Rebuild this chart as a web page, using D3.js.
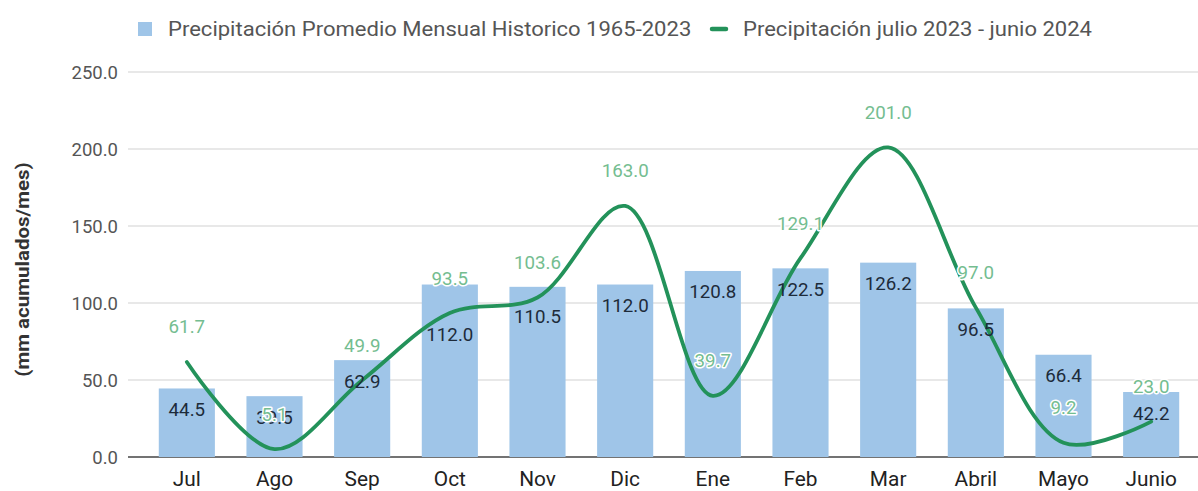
<!DOCTYPE html>
<html>
<head>
<meta charset="utf-8">
<script src="https://cdn.jsdelivr.net/npm/d3@7"></script>
<style>
  html, body { margin: 0; padding: 0; background: #fff; }
  svg { display: block; font-family: Roboto, "Noto Sans", sans-serif; }
</style>
</head>
<body>
<svg id="chart" width="1198" height="491"></svg>
<script>
// ---- data ----
const months = ["Jul", "Ago", "Sep", "Oct", "Nov", "Dic", "Ene", "Feb", "Mar", "Abril", "Mayo", "Junio"];
const historico = [44.5, 39.5, 62.9, 112.0, 110.5, 112.0, 120.8, 122.5, 126.2, 96.5, 66.4, 42.2];
const temporada = [61.7, 5.1, 49.9, 93.5, 103.6, 163.0, 39.7, 129.1, 201.0, 97.0, 9.2, 23.0];
const yTicks = [0, 50, 100, 150, 200, 250];
const seriesNames = ["Precipitación Promedio Mensual Historico 1965-2023", "Precipitación julio 2023 - junio 2024"];
const yTitle = "(mm acumulados/mes)";

// ---- layout ----
const svg = d3.select("#chart");
const plot = { left: 128, right: 1198, top: 72, bottom: 457 };
const barColor = "#9fc5e8";
const lineColor = "#23925a";
const lineLabelColor = "#74bd90";

const x = d3.scaleBand().domain(months).range([143, 1195]).paddingInner(0.36).paddingOuter(0.18);
const y = d3.scaleLinear().domain([0, 250]).range([plot.bottom, plot.top]);
const cx = m => x(m) + x.bandwidth() / 2;

function stretchedText(g, tx, ty, txt, anchor, sx) {
  return g.append("text")
    .attr("transform", `translate(${tx},${ty}) scale(${sx},1)`)
    .attr("text-anchor", anchor)
    .text(txt);
}

// gridlines
svg.append("g").selectAll("line").data(yTicks).join("line")
  .attr("x1", plot.left).attr("x2", plot.right)
  .attr("y1", d => y(d)).attr("y2", d => y(d))
  .attr("stroke", d => d === 0 ? "#444" : "#e0e0e0")
  .attr("stroke-width", d => d === 0 ? 1.4 : 1.3);

// y tick labels
const yl = svg.append("g").attr("font-size", 18.5).attr("fill", "#555");
yTicks.forEach(t => {
  stretchedText(yl, 118, y(t) + 6.5, d3.format(".1f")(t), "end", 1.0);
});

// y title
svg.append("text")
  .attr("transform", `translate(29,${(plot.top + plot.bottom) / 2 + 5}) rotate(-90) scale(1.08,1)`)
  .attr("text-anchor", "middle")
  .attr("font-size", 19).attr("font-weight", "bold").attr("fill", "#333")
  .text(yTitle);

// bars
svg.append("g").selectAll("rect").data(historico).join("rect")
  .attr("x", (d, i) => x(months[i]))
  .attr("width", x.bandwidth())
  .attr("y", d => y(d))
  .attr("height", d => y(0) - y(d))
  .attr("fill", barColor);

// line
const lineGen = d3.line()
  .x((d, i) => cx(months[i]))
  .y(d => y(d))
  .curve(d3.curveCatmullRom.alpha(0.5));
const path = svg.append("path")
  .attr("d", lineGen(temporada))
  .attr("fill", "none")
  .attr("stroke", lineColor)
  .attr("stroke-width", 3.8)
  .attr("stroke-linecap", "round");

// sample the line so bar labels can step out of a flat run of it
const pn = path.node();
const L = pn.getTotalLength();
const samples = [];
for (let s = 0; s <= L; s += 1) samples.push(pn.getPointAtLength(s));
const xMin = d3.min(samples, p => p.x), xMax = d3.max(samples, p => p.x);
function lineYAt(px) {
  let best = null, bd = Infinity;
  samples.forEach(p => { const d = Math.abs(p.x - px); if (d < bd) { bd = d; best = p; } });
  return best.y;
}
function placeBarLabel(c, cy) {
  if (c - 20 < xMin || c + 20 > xMax) return cy;
  const yc = lineYAt(c);
  const slope = Math.abs(lineYAt(c + 20) - lineYAt(c - 20)) / 40;
  if (Math.abs(yc - cy) < 14 && slope < 0.7) {
    const near = samples.filter(p => Math.abs(p.x - c) < 14);
    return d3.max(near, p => p.y) + 14;
  }
  return cy;
}

// bar labels
const bl = svg.append("g").attr("font-size", 18).attr("fill", "#1d2b3a");
historico.forEach((v, i) => {
  const c = cx(months[i]);
  const cy = placeBarLabel(c, y(v) + 21);
  stretchedText(bl, c, cy + 6.5, d3.format(".1f")(v), "middle", 1.04);
});

// line labels
const ll = svg.append("g").attr("font-size", 18).attr("fill", lineLabelColor)
  .attr("stroke", "#fff").attr("stroke-width", 3).attr("paint-order", "stroke")
  .attr("stroke-linejoin", "round");
temporada.forEach((v, i) => {
  stretchedText(ll, cx(months[i]), y(v) - 35 + 6.5, d3.format(".1f")(v), "middle", 1.04);
});

// x axis labels
const xl = svg.append("g").attr("font-size", 19.5).attr("fill", "#222");
months.forEach(m => {
  stretchedText(xl, cx(m), 486, m, "middle", 1.07);
});

// legend
const lg = svg.append("g").attr("font-size", 21).attr("fill", "#555");
lg.append("rect").attr("x", 138).attr("y", 22).attr("width", 14).attr("height", 14).attr("fill", barColor);
stretchedText(lg, 168, 36, seriesNames[0], "start", 1.05);
lg.append("line").attr("x1", 712).attr("x2", 726).attr("y1", 29).attr("y2", 29)
  .attr("stroke", lineColor).attr("stroke-width", 4.5).attr("stroke-linecap", "round");
stretchedText(lg, 743, 36, seriesNames[1], "start", 1.05);
</script>
</body>
</html>
